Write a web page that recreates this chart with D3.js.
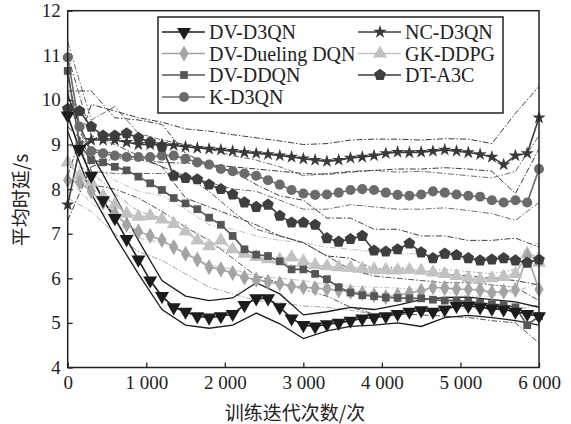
<!DOCTYPE html>
<html>
<head>
<meta charset="utf-8">
<script src="https://cdn.jsdelivr.net/npm/d3@7"></script>
<style>
  html, body { margin: 0; padding: 0; background: #fff; }
  svg { display: block; }
  text { font-family: "Liberation Serif", "Times New Roman", serif; fill: #222; }
  .cjk { font-family: "Noto Sans CJK SC", sans-serif; }
</style>
</head>
<body>
<figure style="margin:0"></figure>
<script>
// iteration points for the marker lines
const iterations = [0, 150, 300, 450, 600, 750, 900, 1050, 1200, 1350, 1500, 1650, 1800, 1950, 2100,
  2250, 2400, 2550, 2700, 2850, 3000, 3150, 3300, 3450, 3600, 3750, 3900, 4050, 4200, 4350, 4500,
  4650, 4800, 4950, 5100, 5250, 5400, 5550, 5700, 5850, 6000];
// iteration points for the upper / lower band lines
const bandIterations = [0, 300, 600, 900, 1200, 1500, 1800, 2100, 2400, 2700, 3000, 3300, 3600,
  3900, 4200, 4500, 4800, 5100, 5400, 5700, 6000];

const xTicks = [0, 1000, 2000, 3000, 4000, 5000, 6000];
const yTicks = [4, 5, 6, 7, 8, 9, 10, 11, 12];

const dvD3qn = [9.65, 8.9, 8.3, 7.75, 7.35, 6.88, 6.42, 5.95, 5.6, 5.35, 5.25, 5.15, 5.12, 5.15, 5.2,
  5.4, 5.55, 5.55, 5.35, 5.1, 4.95, 4.92, 4.97, 5.0, 5.05, 5.1, 5.12, 5.15, 5.2, 5.25, 5.28,
  5.25, 5.3, 5.38, 5.38, 5.35, 5.32, 5.3, 5.25, 5.2, 5.15];
const dvD3qnUpper = [10.1, 8.8, 7.85, 6.85, 5.95, 5.6, 5.5, 5.56, 5.9, 5.65, 5.18, 5.25, 5.35, 5.3,
  5.4, 5.52, 5.57, 5.58, 5.52, 5.47, 5.35];
const dvD3qnLower = [9.3, 7.9, 6.95, 6.1, 5.3, 4.95, 4.88, 4.95, 5.22, 4.98, 4.65, 4.82, 4.92, 4.95,
  5.0, 4.92, 5.12, 5.17, 5.12, 5.05, 4.95];

const ncD3qn = [7.65, 8.9, 9.1, 9.1, 9.1, 9.05, 9.0, 9.0, 9.0, 8.98, 8.95, 8.92, 8.9, 8.88, 8.85,
  8.82, 8.8, 8.78, 8.75, 8.72, 8.68, 8.65, 8.62, 8.65, 8.7, 8.72, 8.75, 8.8, 8.83, 8.82, 8.83,
  8.85, 8.88, 8.85, 8.82, 8.78, 8.72, 8.55, 8.75, 8.8, 9.6];
const ncD3qnUpper = [8.3, 9.9, 9.75, 9.6, 9.5, 9.35, 9.3, 9.22, 9.15, 9.08, 9.0, 9.02, 9.1, 9.12,
  9.12, 9.1, 9.13, 9.12, 9.02, 9.7, 10.3];
const ncD3qnLower = [7.3, 8.5, 8.7, 8.65, 8.6, 8.58, 8.55, 8.5, 8.45, 8.4, 8.35, 8.33, 8.38, 8.42,
  8.45, 8.45, 8.48, 8.45, 8.4, 7.9, 8.9];

const dueling = [8.2, 8.15, 7.95, 7.7, 7.45, 7.2, 7.05, 6.95, 6.86, 6.7, 6.55, 6.42, 6.25, 6.2, 6.12,
  6.02, 5.97, 5.92, 5.88, 5.82, 5.8, 5.78, 5.76, 5.73, 5.7, 5.67, 5.62, 5.58, 5.62, 5.67, 5.72,
  5.8, 5.78, 5.76, 5.75, 5.74, 5.68, 5.7, 5.74, 6.5, 5.75];
const duelingUpper = [8.6, 8.4, 7.9, 7.5, 7.35, 7.05, 6.75, 6.6, 6.45, 6.35, 6.25, 6.2, 6.15, 6.1,
  6.1, 6.15, 6.2, 6.15, 6.1, 6.2, 6.6];
const duelingLower = [7.8, 7.5, 7.0, 6.6, 6.4, 6.1, 5.8, 5.65, 5.5, 5.45, 5.38, 5.35, 5.28, 5.2,
  5.22, 5.3, 5.35, 5.32, 5.3, 5.3, 5.4];

const gkDdpg = [8.6, 8.3, 8.15, 7.85, 7.65, 7.45, 7.38, 7.4, 7.32, 7.22, 7.05, 6.85, 6.72, 6.85, 6.65,
  6.55, 6.48, 6.43, 6.42, 6.47, 6.38, 6.3, 6.27, 6.25, 6.24, 6.22, 6.2, 6.19, 6.18, 6.19, 6.17,
  6.13, 6.1, 6.05, 6.0, 5.97, 6.0, 6.03, 6.1, 6.55, 6.35];
const gkDdpgUpper = [9.0, 8.6, 8.2, 7.95, 7.85, 7.55, 7.2, 7.1, 6.95, 6.85, 6.8, 6.7, 6.65, 6.6,
  6.55, 6.55, 6.5, 6.42, 6.4, 6.5, 6.8];
const gkDdpgLower = [8.2, 7.7, 7.25, 6.9, 6.8, 6.6, 6.3, 6.2, 6.05, 6.0, 5.95, 5.85, 5.82, 5.8,
  5.78, 5.75, 5.7, 5.6, 5.6, 5.7, 5.9];

const dvDdqn = [10.65, 9.0, 8.65, 8.6, 8.5, 8.42, 8.28, 8.13, 7.98, 7.8, 7.68, 7.55, 7.36, 7.2, 6.95,
  6.65, 6.53, 6.5, 6.38, 6.2, 6.2, 6.1, 5.98, 5.8, 5.68, 5.62, 5.6, 5.57, 5.56, 5.55, 5.55,
  5.52, 5.5, 5.5, 5.48, 5.45, 5.42, 5.4, 5.35, 4.95, 5.15];
const dvDdqnUpper = [11.0, 9.2, 9.0, 8.75, 8.5, 8.3, 7.95, 7.5, 7.1, 6.95, 6.8, 6.5, 6.2, 6.05,
  6.0, 5.95, 5.9, 5.9, 5.85, 5.8, 5.5];
const dvDdqnLower = [10.2, 8.1, 8.0, 7.8, 7.5, 7.15, 6.85, 6.45, 6.05, 5.9, 5.75, 5.6, 5.35, 5.2,
  5.2, 5.18, 5.15, 5.12, 5.05, 5.0, 4.55];

const dtA3c = [9.8, 9.75, 9.4, 9.2, 9.2, 9.25, 9.15, 9.05, 8.95, 8.3, 8.25, 8.22, 8.1, 8.0, 7.88,
  7.7, 7.6, 7.65, 7.4, 7.25, 7.25, 7.2, 6.9, 6.82, 6.88, 6.95, 6.62, 6.6, 6.65, 6.78, 6.58,
  6.45, 6.55, 6.52, 6.45, 6.4, 6.42, 6.45, 6.4, 6.35, 6.42];
const dtA3cUpper = [10.2, 10.2, 9.6, 9.55, 9.45, 8.8, 8.55, 8.4, 8.1, 7.85, 7.75, 7.35, 7.35, 7.1,
  7.1, 6.95, 6.95, 6.85, 6.85, 6.9, 6.7];
const dtA3cLower = [9.4, 8.9, 8.8, 8.7, 8.5, 7.8, 7.6, 7.4, 7.2, 6.95, 6.8, 6.5, 6.45, 6.2,
  6.25, 6.15, 6.1, 6.05, 6.0, 5.95, 5.85];

const kD3qn = [10.95, 9.4, 8.85, 8.8, 8.75, 8.72, 8.72, 8.72, 8.75, 8.75, 8.68, 8.6, 8.55, 8.45, 8.4,
  8.35, 8.3, 8.2, 8.1, 7.98, 7.9, 7.87, 7.88, 7.92, 7.98, 8.0, 7.98, 7.92, 7.87, 7.85, 7.88,
  7.95, 7.92, 7.88, 7.85, 7.83, 7.75, 7.7, 7.75, 7.7, 8.45];
const kD3qnUpper = [11.3, 9.55, 9.85, 9.25, 9.1, 9.0, 8.9, 8.75, 8.65, 8.5, 8.3, 8.35, 8.4, 8.42,
  8.38, 8.4, 8.35, 8.3, 8.25, 8.4, 9.2];
const kD3qnLower = [10.5, 8.4, 8.35, 8.35, 8.35, 8.3, 8.15, 8.0, 7.95, 7.75, 7.55, 7.55, 7.65, 7.6,
  7.55, 7.55, 7.58, 7.52, 7.45, 7.3, 7.7];

// pentagon marker for DT-A3C
const symbolPentagon = {
  draw(context, size) {
    const r = Math.sqrt(size / 2.378);
    for (let i = 0; i < 5; i++) {
      const a = -Math.PI / 2 + i * 2 * Math.PI / 5;
      const px = r * Math.cos(a), py = r * Math.sin(a);
      if (i === 0) context.moveTo(px, py); else context.lineTo(px, py);
    }
    context.closePath();
  }
};

const series = [
  { name: "GK-DDPG", values: gkDdpg, upper: gkDdpgUpper, lower: gkDdpgLower, color: "#c2c2c2", symbol: d3.symbolTriangle, size: 85, rotate: 0, bandDash: "6,2,1.5,2" },
  { name: "DV-Dueling DQN", values: dueling, upper: duelingUpper, lower: duelingLower, color: "#a4a4a4", symbol: d3.symbolDiamond, size: 75, rotate: 0, bandDash: "6,2,1.5,2" },
  { name: "DV-DDQN", values: dvDdqn, upper: dvDdqnUpper, lower: dvDdqnLower, color: "#565656", symbol: d3.symbolSquare, size: 60, rotate: 0, bandDash: "6,2,1.5,2" },
  { name: "K-D3QN", values: kD3qn, upper: kD3qnUpper, lower: kD3qnLower, color: "#6b6b6b", symbol: d3.symbolCircle, size: 80, rotate: 0, bandDash: "6,2,1.5,2" },
  { name: "DT-A3C", values: dtA3c, upper: dtA3cUpper, lower: dtA3cLower, color: "#3e3e3e", symbol: symbolPentagon, size: 90, rotate: 0, bandDash: "6,2,1.5,2" },
  { name: "NC-D3QN", values: ncD3qn, upper: ncD3qnUpper, lower: ncD3qnLower, color: "#3a3a3a", symbol: d3.symbolStar, size: 55, rotate: 0, bandDash: "6,2,1.5,2" },
  { name: "DV-D3QN", values: dvD3qn, upper: dvD3qnUpper, lower: dvD3qnLower, color: "#1c1c1c", symbol: d3.symbolTriangle, size: 85, rotate: 180, bandDash: null }
];

const width = 571, height = 424;
const plotLeft = 67.7, plotRight = 539, plotTop = 10.7, plotBottom = 367.5;

const svg = d3.select("figure").append("svg")
  .attr("width", width)
  .attr("height", height);

const x = d3.scaleLinear().domain([0, 6000]).range([plotLeft, plotRight]);
const y = d3.scaleLinear().domain([4, 12]).range([plotBottom, plotTop]);

svg.append("defs").append("clipPath").attr("id", "plot-clip")
  .append("rect")
  .attr("x", plotLeft).attr("y", plotTop)
  .attr("width", plotRight - plotLeft).attr("height", plotBottom - plotTop);

// axes, ticks inward
const fmt = d => d === 0 ? "0" : d3.format(",")(d).replace(",", " ");
svg.append("g")
  .attr("transform", "translate(0," + plotBottom + ")")
  .call(d3.axisBottom(x).tickValues(xTicks).tickSize(-5).tickPadding(8).tickFormat(fmt))
  .call(g => g.select(".domain").remove())
  .call(g => g.selectAll("line").attr("stroke", "#222").attr("stroke-width", 1.3))
  .call(g => g.selectAll("text").attr("font-size", 19).attr("font-family", "Liberation Serif").attr("fill", "#222"));

svg.append("g")
  .attr("transform", "translate(" + plotLeft + ",0)")
  .call(d3.axisLeft(y).tickValues(yTicks).tickSize(-5).tickPadding(7).tickFormat(d3.format("d")))
  .call(g => g.select(".domain").remove())
  .call(g => g.selectAll("line").attr("stroke", "#222").attr("stroke-width", 1.3))
  .call(g => g.selectAll("text").attr("font-size", 19).attr("font-family", "Liberation Serif").attr("fill", "#222"));

const plot = svg.append("g").attr("clip-path", "url(#plot-clip)");

const line = d3.line()
  .x(d => x(d[0]))
  .y(d => y(d[1]));

// band lines
series.forEach(s => {
  [s.upper, s.lower].forEach(arr => {
    plot.append("path")
      .datum(bandIterations.map((it, i) => [it, arr[i]]))
      .attr("fill", "none")
      .attr("stroke", s.color)
      .attr("stroke-width", s.bandDash ? 1 : 1.3)
      .attr("stroke-dasharray", s.bandDash)
      .attr("d", line);
  });
});

// main lines with markers
series.forEach(s => {
  const pts = iterations.map((it, i) => [it, s.values[i]]);
  plot.append("path")
    .datum(pts)
    .attr("fill", "none")
    .attr("stroke", s.color)
    .attr("stroke-width", 1.6)
    .attr("d", line);
  svg.append("g").selectAll("path")
    .data(pts)
    .enter()
    .append("path")
    .attr("transform", d => "translate(" + x(d[0]) + "," + y(d[1]) + ") rotate(" + s.rotate + ")")
    .attr("d", d3.symbol().type(s.symbol).size(s.size))
    .attr("fill", s.color);
});

// frame
svg.append("rect")
  .attr("x", plotLeft).attr("y", plotTop)
  .attr("width", plotRight - plotLeft).attr("height", plotBottom - plotTop)
  .attr("fill", "none")
  .attr("stroke", "#222")
  .attr("stroke-width", 1.5);

// legend
const legend = svg.append("g");
legend.append("rect")
  .attr("x", 158).attr("y", 17)
  .attr("width", 345).attr("height", 96)
  .attr("fill", "#fff")
  .attr("stroke", "#222")
  .attr("stroke-width", 1.5);

const legendOrder = ["DV-D3QN", "NC-D3QN", "DV-Dueling DQN", "GK-DDPG", "DV-DDQN", "DT-A3C", "K-D3QN"];
const rowY = [32, 53.5, 75, 97];
legendOrder.forEach((name, i) => {
  const s = series.find(d => d.name === name);
  const col = i % 2, row = Math.floor(i / 2);
  const lx = col === 0 ? 162 : 358;
  const cy = rowY[row];
  const g = legend.append("g");
  g.append("line")
    .attr("x1", lx).attr("x2", lx + 43)
    .attr("y1", cy).attr("y2", cy)
    .attr("stroke", s.color)
    .attr("stroke-width", 1.6);
  g.append("path")
    .attr("transform", "translate(" + (lx + 22) + "," + cy + ") rotate(" + s.rotate + ")")
    .attr("d", d3.symbol().type(s.symbol).size(s.size))
    .attr("fill", s.color);
  g.append("text")
    .attr("x", lx + 47)
    .attr("y", cy)
    .attr("dy", "0.35em")
    .attr("font-size", 20)
    .text(name);
});

// axis titles
svg.append("text")
  .attr("class", "cjk")
  .attr("x", 295)
  .attr("y", 413)
  .attr("dy", "0.35em")
  .attr("text-anchor", "middle")
  .attr("font-size", 19)
  .text("训练迭代次数/次");

svg.append("text")
  .attr("class", "cjk")
  .attr("transform", "translate(21,200) rotate(-90)")
  .attr("dy", "0.35em")
  .attr("text-anchor", "middle")
  .attr("font-size", 19)
  .text("平均时延/s");
</script>
</body>
</html>
